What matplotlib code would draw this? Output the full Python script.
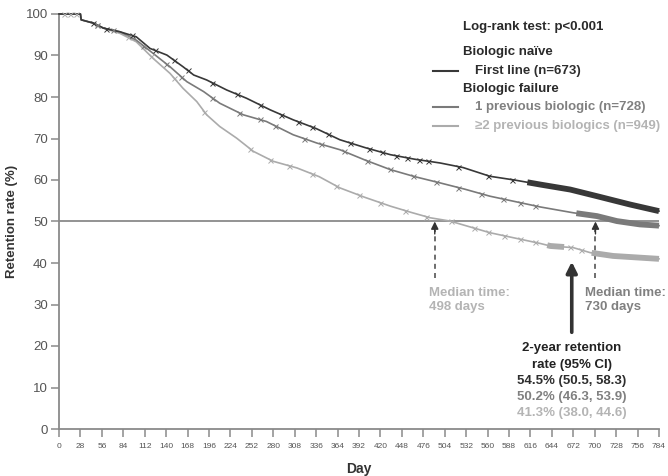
import numpy as np
import matplotlib
matplotlib.use("Agg")
import matplotlib.pyplot as plt

plt.rcParams['font.family'] = ['Liberation Sans', 'DejaVu Sans']

# ---- data ----
first_days = [0, 28, 29, 45, 58, 80, 101, 119, 141, 162, 176, 193, 219, 245, 276, 306, 336, 367,
              400, 433, 465, 498, 528, 563, 595, 629, 668, 703, 746, 784]
first_vals = [100, 100, 98.6, 97.8, 96.6, 95.7, 94.5, 91.7, 90.1, 87.3, 85.3, 84.1, 81.7, 79.7, 76.9,
              74.5, 72.4, 69.7, 67.8, 66.1, 65.0, 64.1, 63.0, 60.9, 60.0, 58.9, 57.7, 56.1, 54.1, 52.5]

one_days = [0, 28, 29, 45, 58, 80, 101, 123, 145, 167, 189, 210, 241, 271, 306, 337, 367, 400, 433,
            465, 498, 530, 563, 596, 629, 672, 703, 729, 759, 784]
one_vals = [100, 100, 98.6, 97.8, 96.6, 95.7, 93.7, 90.5, 87.3, 83.7, 81.3, 78.5, 75.7, 74.1, 70.9,
            68.9, 67.3, 64.8, 62.5, 60.8, 59.3, 57.8, 56.1, 54.8, 53.5, 52.1, 51.3, 50.1, 49.3, 49.0]

two_days = [0, 28, 29, 45, 58, 80, 101, 123, 145, 162, 180, 193, 210, 232, 254, 280, 311, 340, 367,
            400, 433, 460, 485, 511, 537, 563, 596, 629, 642, 672, 694, 724, 784]
two_vals = [100, 100, 98.6, 97.8, 96.6, 95.3, 93.3, 89.3, 85.7, 82.1, 78.9, 75.7, 72.9, 70.1, 66.9,
            64.5, 62.9, 60.8, 58.1, 55.8, 53.7, 52.2, 50.9, 50.1, 48.7, 47.3, 46.0, 44.7, 44.1, 43.7,
            42.5, 41.7, 41.0]

first_censor = [45, 62, 95, 125, 150, 168, 200, 232, 262, 290, 312, 330, 352, 380, 405, 422, 440,
                455, 470, 482, 522, 560, 592]
one_censor = [50, 70, 110, 140, 160, 200, 235, 262, 282, 320, 342, 372, 402, 432, 462, 492, 522,
              552, 580, 602, 622]
two_censor = [6, 14, 22, 50, 90, 120, 150, 190, 250, 276, 300, 330, 362, 392, 420, 452, 480, 512,
              542, 560, 582, 602, 622, 668, 682]

# dense-censoring (thick) segments: (start day, end day)
first_dense = [(612, 784)]
one_dense = [(676, 784)]
two_dense = [(638, 660), (696, 784)]

series_labels = ["First line (n=673)", "1 previous biologic (n=728)", "\u22652 previous biologics (n=949)"]
ci_texts = ["54.5% (50.5, 58.3)", "50.2% (46.3, 53.9)", "41.3% (38.0, 44.6)"]
median_light_day, median_mid_day = 491, 701
median_texts = ["Median time:\n498 days", "Median time:\n730 days"]
two_year_arrow_day = 670
x_ticks = list(range(0, 785, 28))
y_ticks = list(range(0, 101, 10))

colors = ["#383838", "#7a7a7a", "#ababab"]

fig = plt.figure(figsize=(6.68, 4.76), dpi=100)
W, H = 668, 476
ax = fig.add_axes([59 / W, 1 - 429 / H, 600 / W, 415 / H])

ax.set_xlim(0, 784)
ax.set_ylim(0, 100)

data = [(first_days, first_vals, first_censor, first_dense),
        (one_days, one_vals, one_censor, one_dense),
        (two_days, two_vals, two_censor, two_dense)]

# reference line at 50
ax.plot([0, 784], [50, 50], color="#8a8a8a", lw=1.3, zorder=1)

for (d, v, cens, dense), c in zip(data[::-1], colors[::-1]):
    d = np.array(d, float)
    v = np.array(v, float)
    ax.plot(d, v, color=c, lw=1.2, zorder=3, clip_on=False)
    cy = np.interp(cens, d, v)
    ax.plot(cens, cy, ls='none', marker='x', ms=3.6, mew=0.7, color=c, zorder=4, clip_on=False)
    for a, b in dense:
        m = (d > a) & (d < b)
        sd = np.concatenate([[a], d[m], [b]])
        sv = np.interp(sd, d, v)
        ax.plot(sd, sv, color=c, lw=4.2, zorder=3, solid_capstyle='butt', clip_on=False)

# median arrows
for xd in [median_light_day, median_mid_day]:
    ax.plot([xd, xd], [36.5, 48], color="#555555", lw=1.2, ls=(0, (3, 2.5)), zorder=2)
    ax.annotate('', xy=(xd, 50), xytext=(xd, 47),
                arrowprops=dict(arrowstyle='-|>', color="#333333", lw=1.0, mutation_scale=11,
                                shrinkA=0, shrinkB=0), zorder=5)

# 2-year arrow
ax.annotate('', xy=(two_year_arrow_day, 40.3), xytext=(two_year_arrow_day, 23.3),
            arrowprops=dict(arrowstyle='-|>', color="#333333", lw=2.6, mutation_scale=16,
                            shrinkA=0, shrinkB=0), zorder=5)

# axes styling
for s in ['top', 'right']:
    ax.spines[s].set_visible(False)
for s in ['left', 'bottom']:
    ax.spines[s].set_color("#8a8a8a")
    ax.spines[s].set_linewidth(1.3)
ax.set_xticks(x_ticks)
ax.set_yticks(y_ticks)
ax.tick_params(axis='x', length=6, width=1.1, color="#8a8a8a", labelsize=6,
               labelcolor="#555555", pad=4)
ax.tick_params(axis='y', length=6, width=1.1, color="#8a8a8a", labelsize=9.5,
               labelcolor="#555555", pad=2)

def ft(x, y, s, **kw):
    fig.text(x / W, 1 - y / H, s, **kw)

ft(12, 221, "Retention rate (%)", rotation=90, ha='center', va='center', fontsize=9.5,
   fontweight='bold', color="#333333")
ft(359, 469, "Day", ha='center', va='center', fontsize=10, fontweight='bold', color="#333333")

FS = 9.5
# legend block
ft(463, 27, "Log-rank test: p<0.001", ha='left', va='center', fontsize=FS, fontweight='bold', color="#2a2a2a")
ft(463, 52, "Biologic na\u00efve", ha='left', va='center', fontsize=FS, fontweight='bold', color="#2a2a2a")
ft(463, 89, "Biologic failure", ha='left', va='center', fontsize=FS, fontweight='bold', color="#2a2a2a")
text_cols = ["#2e2e2e", "#808080", "#b4b4b4"]
for lab, yy, c, tc in zip(series_labels, [71, 107, 126], colors, text_cols):
    ft(475, yy, lab, ha='left', va='center', fontsize=FS, fontweight='bold', color=tc)
    fig.add_artist(plt.Line2D([433 / W, 458 / W], [1 - yy / H, 1 - yy / H], color=c, lw=1.5))

# median texts
ft(429, 300, median_texts[0], ha='left', va='center', fontsize=FS, fontweight='bold',
   color="#b4b4b4", linespacing=1.15)
ft(585, 300, median_texts[1], ha='left', va='center', fontsize=FS, fontweight='bold',
   color="#808080", linespacing=1.15)

# 2-year retention block
ft(572, 348, "2-year retention", ha='center', va='center', fontsize=FS, fontweight='bold', color="#222222")
ft(572, 365, "rate (95% CI)", ha='center', va='center', fontsize=FS, fontweight='bold', color="#222222")
for s, yy, tc in zip(ci_texts, [381, 397, 413], text_cols):
    ft(572, yy, s, ha='center', va='center', fontsize=FS, fontweight='bold', color=tc)

fig.savefig("out.png", dpi=100)
